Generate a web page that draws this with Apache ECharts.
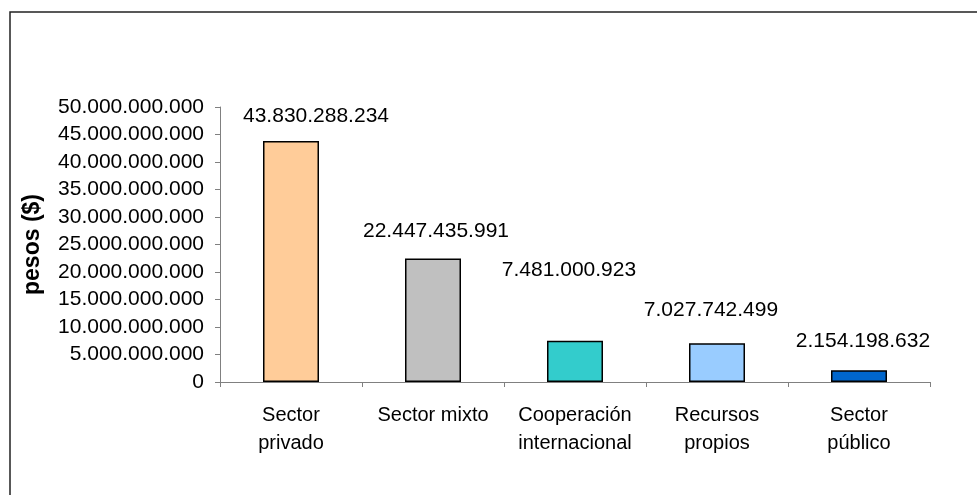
<!DOCTYPE html>
<html>
<head>
<meta charset="utf-8">
<script src="https://cdn.jsdelivr.net/npm/echarts@6/dist/echarts.min.js"></script>
<style>
html,body{margin:0;padding:0;background:#fff;}
#c{width:977px;height:495px;}
</style>
</head>
<body>
<div id="c"></div>
<script>
var categories = ['Sector\nprivado', 'Sector mixto', 'Cooperación\ninternacional', 'Recursos\npropios', 'Sector\npúblico'];
var values = [43830288234, 22447435991, 7481000923, 7027742499, 2154198632];
var colors = ['#FFCC99', '#C0C0C0', '#33CCCC', '#99CCFF', '#0066CC'];
var yTicks = { min: 0, max: 50000000000, interval: 5000000000 };
var yName = 'pesos ($)';

var labelOffsets = [[25, -14], [3, -17], [-6, -60], [-6, -23], [4, -18]];

function fmt(v) {
  return String(Math.round(v)).replace(/\B(?=(\d{3})+(?!\d))/g, '.');
}

var FONT = '"Liberation Sans", Arial, sans-serif';
var chart = echarts.init(document.getElementById('c'));
chart.setOption({
  backgroundColor: '#ffffff',
  animation: false,
  textStyle: { fontFamily: FONT },
  graphic: [{
    type: 'rect',
    shape: { x: 10, y: 12, width: 990, height: 510 },
    style: { fill: 'none', stroke: '#222', lineWidth: 1.5 },
    silent: true
  }],
  grid: { left: 220, right: 47, top: 107, bottom: 113, containLabel: false },
  xAxis: {
    type: 'category',
    data: categories,
    axisLine: { lineStyle: { color: '#808080', width: 1 } },
    axisTick: { show: true, alignWithLabel: false, length: 5, lineStyle: { color: '#808080' } },
    axisLabel: { color: '#000', fontSize: 20, fontFamily: FONT, lineHeight: 28, margin: 19, interval: 0 }
  },
  yAxis: {
    type: 'value',
    min: yTicks.min, max: yTicks.max, interval: yTicks.interval,
    name: yName,
    nameLocation: 'middle',
    nameGap: 176,
    nameRotate: 90,
    nameTextStyle: { color: '#000', fontSize: 23, fontWeight: 'bold', fontFamily: FONT },
    axisLine: { show: true, lineStyle: { color: '#808080', width: 1 } },
    axisTick: { show: true, length: 5, lineStyle: { color: '#808080' } },
    splitLine: { show: false },
    axisLabel: { color: '#000', fontSize: 21, fontFamily: FONT, margin: 16, formatter: fmt }
  },
  series: [{
    type: 'bar',
    barWidth: 56,
    data: values.map(function (v, i) {
      return {
        value: v,
        itemStyle: { color: colors[i] },
        label: { offset: labelOffsets[i] }
      };
    }),
    itemStyle: { borderColor: '#000', borderWidth: 1.5 },
    label: {
      show: true, position: 'top', distance: 0,
      color: '#000', fontSize: 21, fontFamily: FONT,
      formatter: function (p) { return fmt(p.value); }
    }
  }]
});
</script>
</body>
</html>
